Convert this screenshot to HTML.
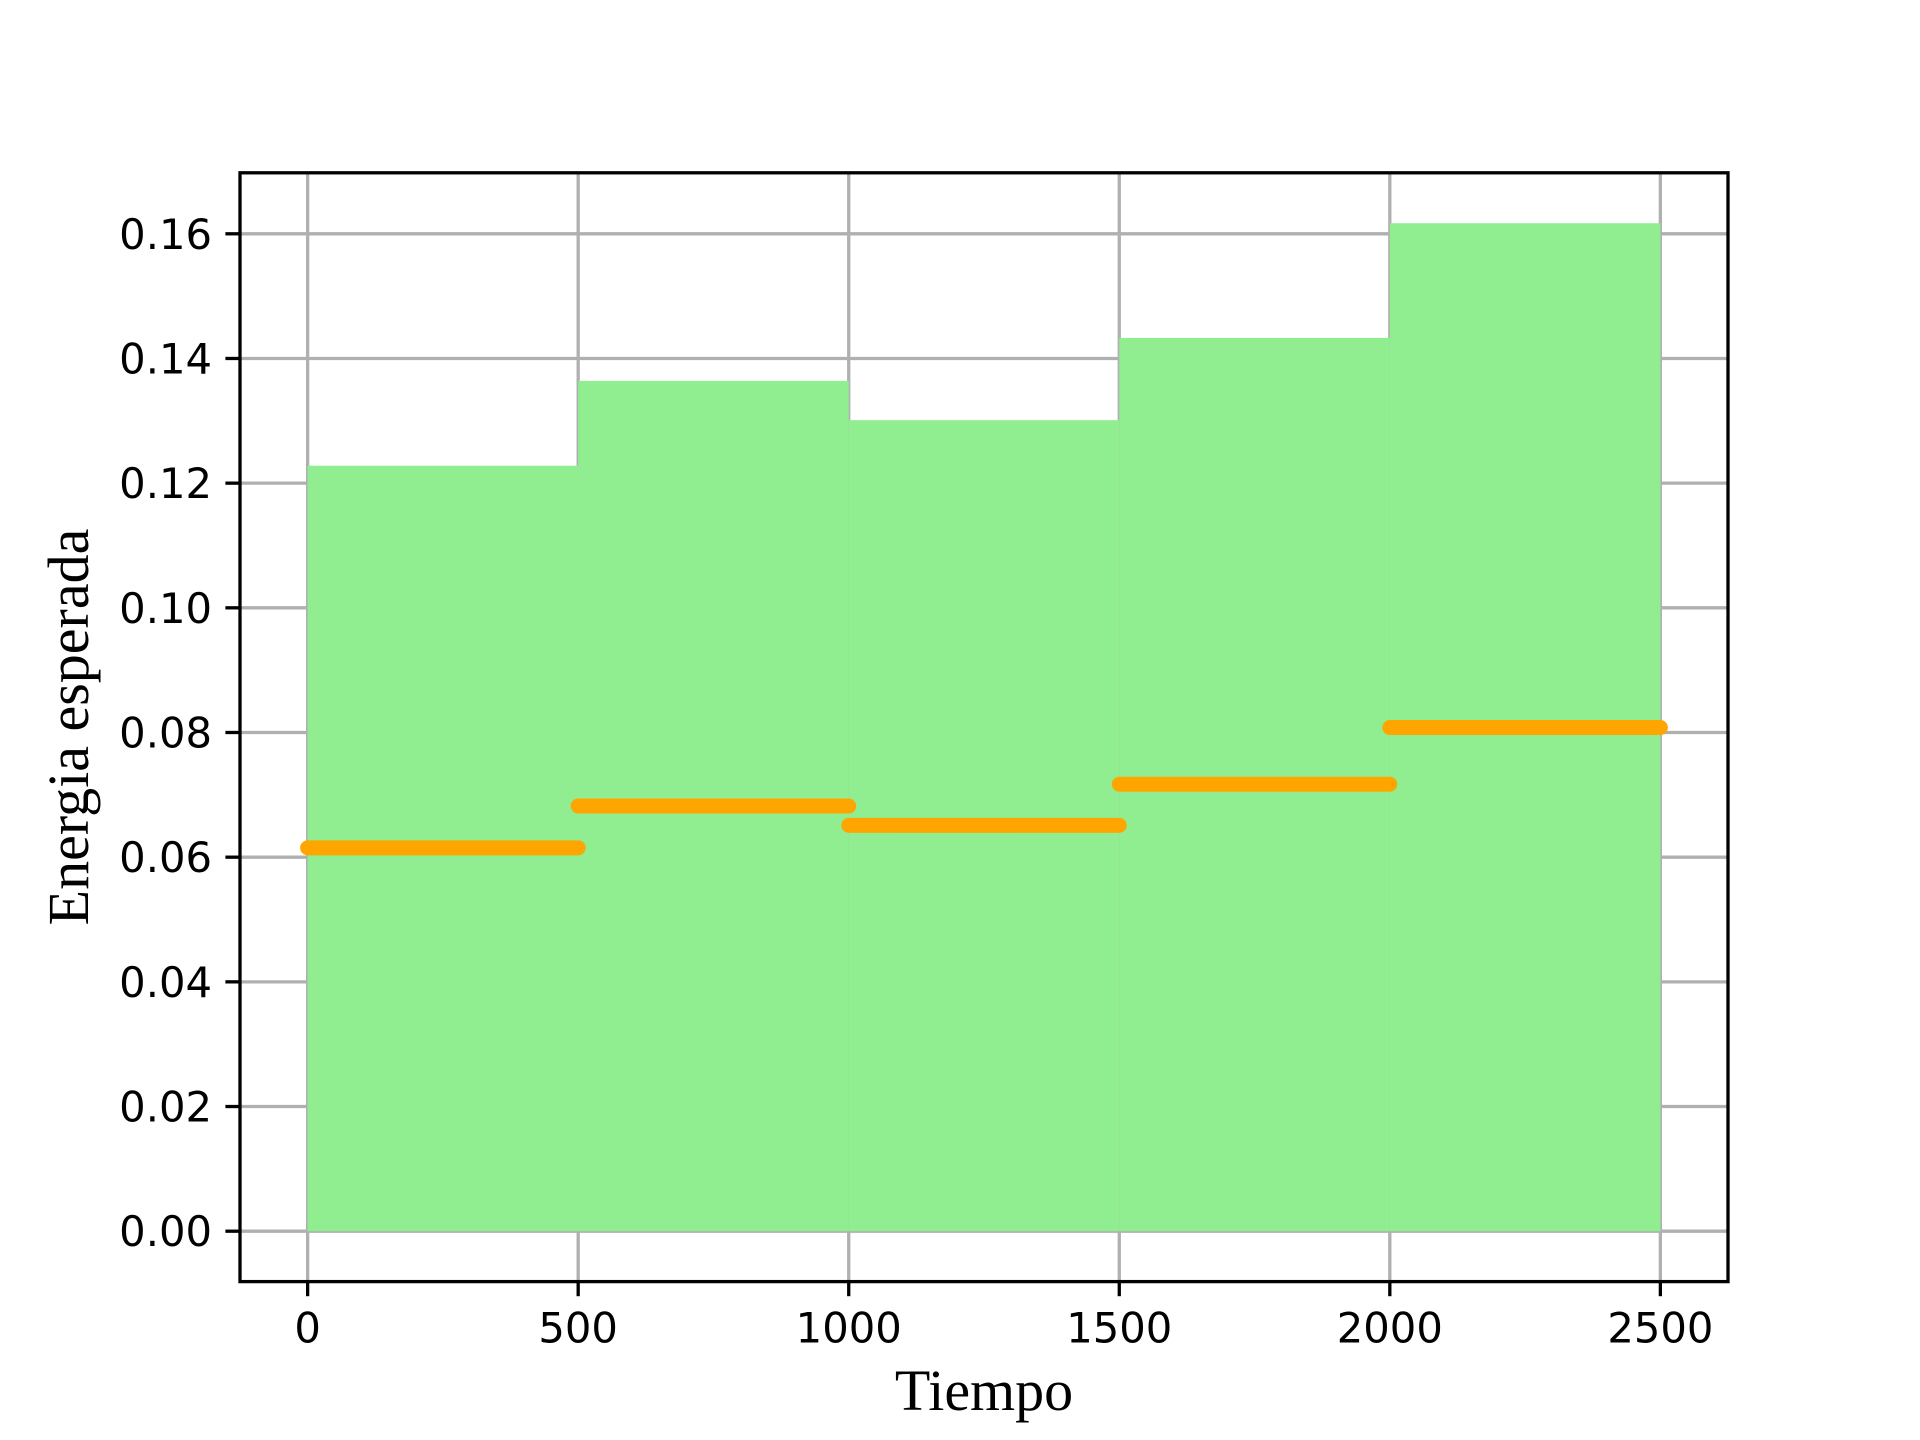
<!DOCTYPE html>
<html><head><meta charset="utf-8"><style>body{margin:0;background:#fff}svg{display:block}</style></head>
<body>
<svg id="chart" width="1920" height="1440" viewBox="0 0 1920 1440" xmlns="http://www.w3.org/2000/svg">
<rect width="1920" height="1440" fill="#fff"/>
<g id="grid"></g>
<g id="fills"></g>
<g id="lines"></g>
<rect x="240" y="172.8" width="1488" height="1108.8" fill="none" stroke="#000" stroke-width="3.3"/>
<g id="ticks"></g>
<text x="984" y="1410" font-family="'Liberation Serif',serif" font-size="58" text-anchor="middle">Tiempo</text>
<text transform="translate(88,727) rotate(-90)" font-family="'Liberation Serif',serif" font-size="58" text-anchor="middle">Energia esperada</text>
</svg>
<script>
const segStarts = [0, 500, 1000, 1500, 2000];
const segEnds = [500, 1000, 1500, 2000, 2500];
const fillTops = [0.1228, 0.1364, 0.1301, 0.1433, 0.1617];
const meanValues = [0.0615, 0.0682, 0.0651, 0.0717, 0.0808];
const xTicks = [0, 500, 1000, 1500, 2000, 2500];
const yTicks = [0, 0.02, 0.04, 0.06, 0.08, 0.10, 0.12, 0.14, 0.16];
const yTickLabels = ["0.00","0.02","0.04","0.06","0.08","0.10","0.12","0.14","0.16"];

const L=240,R=1728,T=172.8,B=1281.6;
const xMin=-125,xMax=2625;
const dataMax=Math.max(...fillTops), yMin=-0.05*dataMax, yMax=1.05*dataMax;
const sx=v=>L+(v-xMin)/(xMax-xMin)*(R-L);
const sy=v=>B-(v-yMin)/(yMax-yMin)*(B-T);
const NS="http://www.w3.org/2000/svg";
function mk(tag,attrs,parent,text){const e=document.createElementNS(NS,tag);for(const k in attrs)e.setAttribute(k,attrs[k]);if(text!==undefined)e.textContent=text;parent.appendChild(e);return e;}
const grid=document.getElementById('grid'),fills=document.getElementById('fills'),lines=document.getElementById('lines'),ticks=document.getElementById('ticks');
xTicks.forEach(v=>{
  const g=mk('line',{x1:sx(v),x2:sx(v),y1:T,y2:B,stroke:'#b0b0b0','stroke-width':3.3},grid);
  
  
  const t=mk('line',{x1:sx(v),x2:sx(v),y1:B,y2:B+14.6,stroke:'#000','stroke-width':3.3},ticks);
  
  
  const l=mk('text',{x:sx(v),y:B+61,'font-family':"'DejaVu Sans',sans-serif",'font-size':41.7,'text-anchor':'middle'},ticks,String(v));
  
  
});
yTicks.forEach((v,i)=>{
  const g=mk('line',{x1:L,x2:R,y1:sy(v),y2:sy(v),stroke:'#b0b0b0','stroke-width':3.3},grid);
  
  
  const t=mk('line',{x1:L-14.6,x2:L,y1:sy(v),y2:sy(v),stroke:'#000','stroke-width':3.3},ticks);
  
  
  const l=mk('text',{x:L-28,y:sy(v)+15,'font-family':"'DejaVu Sans',sans-serif",'font-size':41.7,'text-anchor':'end'},ticks,yTickLabels[i]);
  
  
});
segStarts.forEach((s,i)=>{
  const r=mk('rect',{x:sx(s),y:sy(fillTops[i]),width:sx(segEnds[i])-sx(s),height:sy(0)-sy(fillTops[i]),fill:'#90ee90'},fills);
  
  
  const ln=mk('line',{x1:sx(s),x2:sx(segEnds[i]),y1:sy(meanValues[i]),y2:sy(meanValues[i]),stroke:'#ffa500','stroke-width':15,'stroke-linecap':'round'},lines);
  
  
});
</script>
</body></html>
